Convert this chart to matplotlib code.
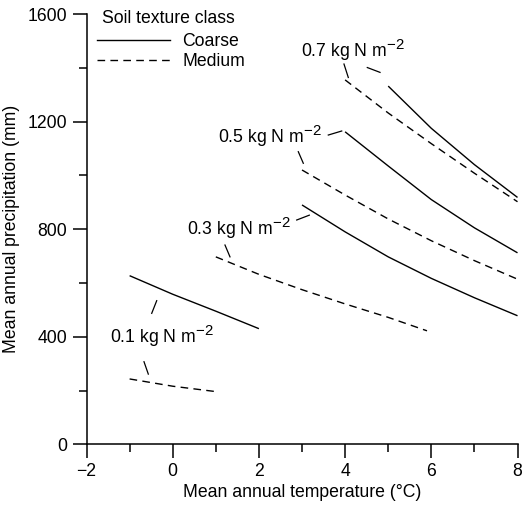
import numpy as np
import matplotlib
matplotlib.use("Agg")
import matplotlib.pyplot as plt
import matplotlib._mathtext as mathtext_internal
from matplotlib.lines import Line2D
from matplotlib.ticker import MultipleLocator

plt.rcParams['font.family'] = ['Liberation Sans', 'DejaVu Sans']
plt.rcParams['mathtext.default'] = 'regular'
plt.rcParams['font.size'] = 12.7
# показатель степени в подписях крупнее, чем по умолчанию
mathtext_internal.SHRINK_FACTOR = 0.85

# Данные: температура (°C) и осадки (мм)
temp_c01 = [-1, 0, 1, 2]
prec_c01 = [627, 558, 495, 430]
temp_m01 = [-1, 0, 1]
prec_m01 = [243, 216, 196]

temp_c03 = [3, 4, 5, 6, 7, 8]
prec_c03 = [890, 790, 697, 617, 545, 478]
temp_m03 = [1, 2, 3, 4, 5, 5.9]
prec_m03 = [697, 632, 575, 522, 472, 422]

temp_c05 = [4, 5, 6, 7, 8]
prec_c05 = [1162, 1035, 910, 805, 712]
temp_m05 = [3, 4, 5, 6, 7, 8]
prec_m05 = [1020, 927, 838, 757, 683, 614]

temp_c07 = [5, 6, 7, 8]
prec_c07 = [1332, 1175, 1040, 918]
temp_m07 = [4, 5, 6, 7, 8]
prec_m07 = [1355, 1232, 1118, 1008, 902]

labels = ['0.1 kg N m$^{\u22122}$', '0.3 kg N m$^{\u22122}$',
          '0.5 kg N m$^{\u22122}$', '0.7 kg N m$^{\u22122}$']

# положение подписей (левый край, базовая линия)
label_pos = [(-1.455, 378), (0.339, 778), (1.058, 1119), (2.970, 1441)]

# выноски от подписей к кривым
leaders = [
    ((-0.487, -0.371), (487, 534)),
    ((-0.666, -0.566), (307, 261)),
    ((2.877, 3.169), (834, 852)),
    ((1.213, 1.329), (741, 697)),
    ((3.610, 3.921), (1150, 1165)),
    ((2.914, 3.030), (1088, 1045)),
    ((3.974, 4.074), (1414, 1364)),
    ((4.515, 4.810), (1401, 1383)),
]

dash = (5.5, 3.8)

fig = plt.figure(figsize=(5.23, 5.08), dpi=100)
ax = fig.add_axes([0.1654, 0.1254, 0.8241, 0.847])

coarse = [(temp_c01, prec_c01), (temp_c03, prec_c03), (temp_c05, prec_c05), (temp_c07, prec_c07)]
medium = [(temp_m01, prec_m01), (temp_m03, prec_m03), (temp_m05, prec_m05), (temp_m07, prec_m07)]

for x, y in coarse:
    ax.plot(x, y, color='black', lw=1.0, solid_capstyle='butt')
for x, y in medium:
    ax.plot(x, y, color='black', lw=1.0, dashes=dash)

for xs, ys in leaders:
    ax.plot(xs, ys, color='black', lw=0.9)

for txt, (x, y) in zip(labels, label_pos):
    ax.text(x, y, txt, ha='left', va='baseline')

ax.set_xlim(-2, 8)
ax.set_ylim(0, 1600)
ax.xaxis.set_major_locator(MultipleLocator(2))
ax.xaxis.set_minor_locator(MultipleLocator(1))
ax.yaxis.set_major_locator(MultipleLocator(400))
ax.yaxis.set_minor_locator(MultipleLocator(200))
ax.tick_params(which='major', length=10, width=1.1)
ax.tick_params(which='minor', length=5.5, width=1.1)
ax.tick_params(axis='x', pad=3.5)
ax.tick_params(axis='y', pad=4)
ax.spines['top'].set_visible(False)
ax.spines['right'].set_visible(False)
ax.spines['left'].set_linewidth(1.1)
ax.spines['bottom'].set_linewidth(1.1)

ax.set_xlabel('Mean annual temperature (°C)', labelpad=3)
ax.set_ylabel('Mean annual precipitation (mm)', labelpad=5)

# легенда
ax.text(0.035, 0.978, 'Soil texture class', transform=ax.transAxes,
        ha='left', va='baseline')
handles = [Line2D([], [], color='black', lw=1.0),
           Line2D([], [], color='black', lw=1.0, dashes=dash)]
leg = ax.legend(handles, ['Coarse', 'Medium'],
                loc='center left', bbox_to_anchor=(0.025, 0.9126), frameon=False,
                handlelength=4.1, handletextpad=0.72, labelspacing=0.14,
                borderpad=0, borderaxespad=0)

fig.savefig('out.png', dpi=100)
